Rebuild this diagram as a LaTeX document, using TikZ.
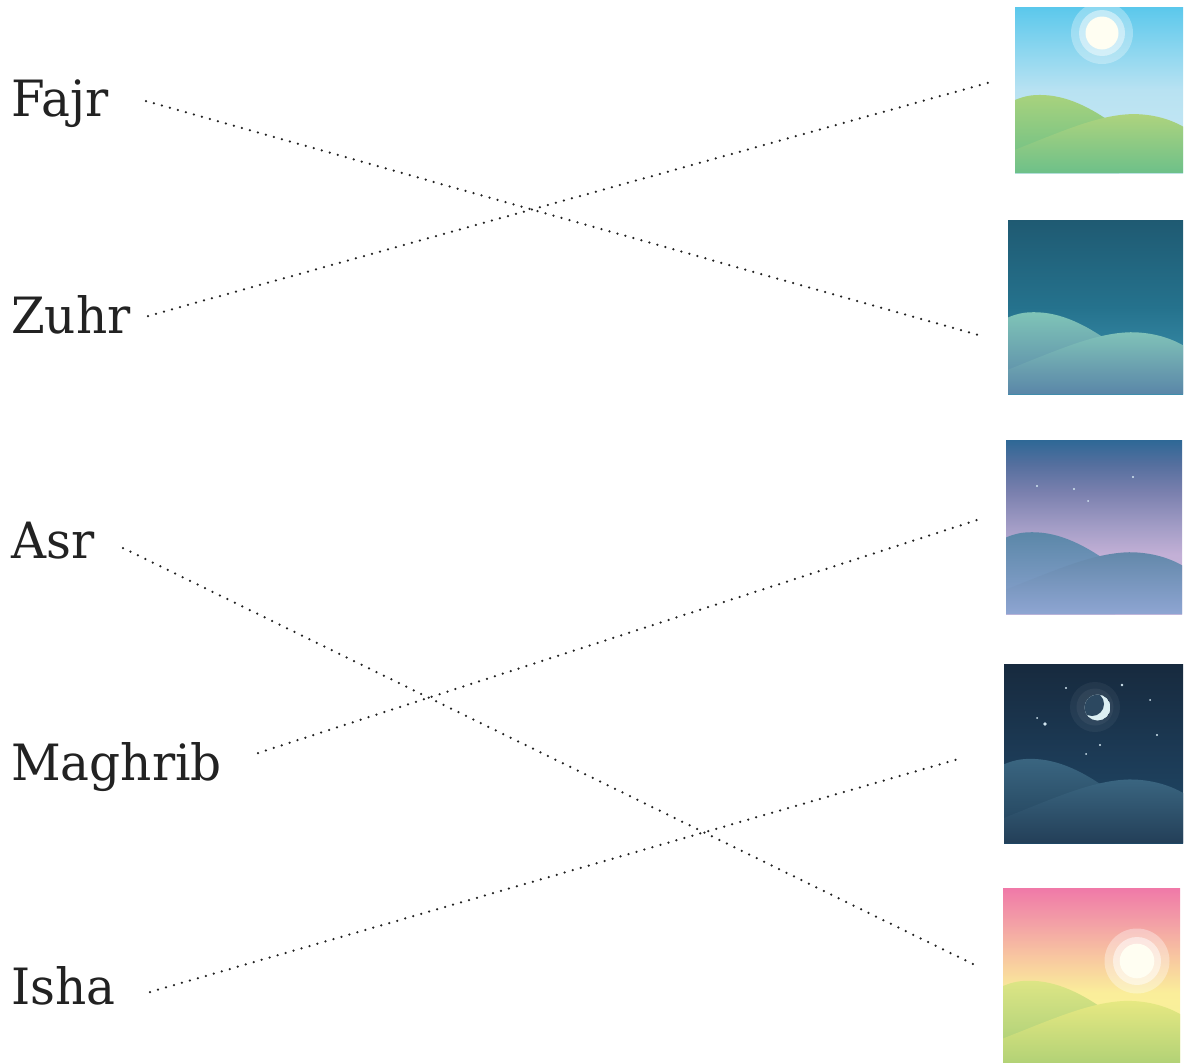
\documentclass[tikz,border=0pt]{standalone}
\usepackage{fontspec}
\setmainfont{DejaVu Serif}
\usetikzlibrary{calc}

\definecolor{ink}{HTML}{222222}

% sky colours
\definecolor{dayA}{HTML}{CBE9F4}\definecolor{dayB}{HTML}{B8E2F2}
\definecolor{dayC}{HTML}{8CD6EF}\definecolor{dayD}{HTML}{5BC8EC}
\definecolor{tealA}{HTML}{3B90AD}\definecolor{tealB}{HTML}{3689A5}
\definecolor{tealC}{HTML}{25728D}\definecolor{tealD}{HTML}{1F5A72}
\definecolor{duskA}{HTML}{C7B8DC}\definecolor{duskB}{HTML}{C3B0D6}
\definecolor{duskC}{HTML}{A39DC6}\definecolor{duskD}{HTML}{7A80AE}
\definecolor{duskE}{HTML}{556F9E}\definecolor{duskF}{HTML}{2E6896}
\definecolor{nightA}{HTML}{1F4A69}\definecolor{nightB}{HTML}{1C3A55}
\definecolor{nightC}{HTML}{172A3E}
\definecolor{dawnA}{HTML}{F7F59A}\definecolor{dawnB}{HTML}{FAEE9A}
\definecolor{dawnC}{HTML}{F8C8A0}\definecolor{dawnD}{HTML}{F3A0A6}
\definecolor{dawnE}{HTML}{F079A8}

% sky gradients (bottom of the box at 25bp, top at 75bp)
\pgfdeclareverticalshading{skyday}{100bp}{color(0bp)=(dayA); color(25bp)=(dayA);
  color(50bp)=(dayB); color(62bp)=(dayC); color(75bp)=(dayD); color(100bp)=(dayD)}
\pgfdeclareverticalshading{skyteal}{100bp}{color(0bp)=(tealA); color(25bp)=(tealA);
  color(35bp)=(tealB); color(50bp)=(tealC); color(75bp)=(tealD); color(100bp)=(tealD)}
\pgfdeclareverticalshading{skydusk}{100bp}{color(0bp)=(duskA); color(25bp)=(duskA);
  color(42bp)=(duskB); color(50bp)=(duskC); color(60bp)=(duskD);
  color(68bp)=(duskE); color(75bp)=(duskF); color(100bp)=(duskF)}
\pgfdeclareverticalshading{skynight}{100bp}{color(0bp)=(nightA); color(25bp)=(nightA);
  color(50bp)=(nightB); color(75bp)=(nightC); color(100bp)=(nightC)}
\pgfdeclareverticalshading{skydawn}{100bp}{color(0bp)=(dawnA); color(25bp)=(dawnA);
  color(45bp)=(dawnB); color(55bp)=(dawnC); color(65bp)=(dawnD);
  color(75bp)=(dawnE); color(100bp)=(dawnE)}

% two rolling hills inside a unit box (y runs downwards)
\newcommand\hills[4]{%
  \shade[top color=#1,bottom color=#2]
    (0,0.56) .. controls (0.06,0.535) and (0.1,0.53) .. (0.15,0.53)
    .. controls (0.3,0.53) and (0.45,0.6) .. (0.62,0.73) -- (0.62,1) -- (0,1) -- cycle;
  \shade[top color=#3,bottom color=#4]
    (0,0.86) .. controls (0.3,0.74) and (0.5,0.65) .. (0.7,0.645)
    .. controls (0.83,0.645) and (0.93,0.68) .. (1,0.72) -- (1,1) -- (0,1) -- cycle;}

% one landscape tile: node name, size, sky shading, hills
\newcommand\tile[5]{%
  \begin{scope}[shift={(#1.north west)},xscale=#2,yscale=#3]
    \shade[shading=#4] (0,0) rectangle (1,1);
    #5
  \end{scope}}

\definecolor{dayhillA}{HTML}{A8D27D}\definecolor{dayhillB}{HTML}{66BE88}
\definecolor{dayhillC}{HTML}{AED37E}\definecolor{dayhillD}{HTML}{6DC089}
\definecolor{tealhillA}{HTML}{7FC4B7}\definecolor{tealhillB}{HTML}{5683A8}
\definecolor{tealhillC}{HTML}{80C2B8}\definecolor{tealhillD}{HTML}{5A86A8}
\definecolor{duskhillA}{HTML}{5B87A8}\definecolor{duskhillB}{HTML}{8EA5D2}
\definecolor{duskhillC}{HTML}{6388AA}\definecolor{duskhillD}{HTML}{8EA5D2}
\definecolor{nighthillA}{HTML}{3A6580}\definecolor{nighthillB}{HTML}{1F3E57}
\definecolor{nighthillC}{HTML}{3A6580}\definecolor{nighthillD}{HTML}{233F58}
\definecolor{dawnhillA}{HTML}{DDE585}\definecolor{dawnhillB}{HTML}{A2CC76}
\definecolor{dawnhillC}{HTML}{E6E882}\definecolor{dawnhillD}{HTML}{B2D276}
\definecolor{sunwhite}{HTML}{FFFEF2}
\definecolor{starwhite}{HTML}{D2E6F0}
\definecolor{moonlight}{HTML}{DCEFF3}
\definecolor{moondisk}{HTML}{2C4860}

\begin{document}
\begin{tikzpicture}[x=1pt,y=-1pt,
  prayer/.style={anchor=base west,inner sep=0pt,text=ink,xscale=0.97,font=\fontsize{50}{60}\selectfont},
  tilebox/.style={anchor=north west,inner sep=0pt,outer sep=0pt},
  dots/.style={draw=ink,line width=2.5pt,line cap=round,dash pattern=on 0pt off 8.3pt},
  star/.style={fill=starwhite}]
\useasboundingbox (0,0) rectangle (1189,1063);

% prayer names
\node[prayer] (fajr)    at (11,116)  {Fajr};
\node[prayer] (zuhr)    at (11,333)  {Zuhr};
\node[prayer] (asr)     at (11,558)  {Asr};
\node[prayer] (maghrib) at (11,780)  {Maghrib};
\node[prayer] (isha)    at (11,1004) {Isha};

% picture tiles
\node[tilebox,minimum width=168pt,minimum height=166pt] (day)   at (1015,7)   {};
\node[tilebox,minimum width=175pt,minimum height=174pt] (teal)  at (1008,220) {};
\node[tilebox,minimum width=176pt,minimum height=174pt] (dusk)  at (1006,440) {};
\node[tilebox,minimum width=179pt,minimum height=179pt] (night) at (1004,664) {};
\node[tilebox,minimum width=177pt,minimum height=175pt] (dawn)  at (1003,888) {};

\tile{day}{168}{166}{skyday}{\hills{dayhillA}{dayhillB}{dayhillC}{dayhillD}}
\tile{teal}{175}{174}{skyteal}{\hills{tealhillA}{tealhillB}{tealhillC}{tealhillD}}
\tile{dusk}{176}{174}{skydusk}{\hills{duskhillA}{duskhillB}{duskhillC}{duskhillD}}
\tile{night}{179}{179}{skynight}{\hills{nighthillA}{nighthillB}{nighthillC}{nighthillD}}
\tile{dawn}{177}{175}{skydawn}{\hills{dawnhillA}{dawnhillB}{dawnhillC}{dawnhillD}}

% midday sun
\fill[white,opacity=0.3]  (1102,33) circle[radius=31];
\fill[white,opacity=0.45] (1102,33) circle[radius=23];
\fill[sunwhite]           (1102,33) circle[radius=16.5];

% evening sun
\fill[white,opacity=0.35] (1137,961) circle[radius=32.5];
\fill[white,opacity=0.5]  (1137,961) circle[radius=24];
\fill[sunwhite]           (1137,961) circle[radius=17.3];

% dusk stars
\fill[star] (1037,486) circle[radius=1.1];
\fill[star] (1074,489) circle[radius=1.1];
\fill[star] (1088,501) circle[radius=1];
\fill[star] (1133,477) circle[radius=1.1];

% moon with its glow
\fill[white,opacity=0.05] (1095,707) circle[radius=25];
\fill[white,opacity=0.05] (1095,707) circle[radius=18.5];
\begin{scope}
  \clip (1097.5,707.5) circle[radius=13];
  \fill[moonlight] (1097.5,707.5) circle[radius=13];
  \fill[moondisk] (1092,704) circle[radius=12];
\end{scope}

% night stars
\fill[star] (1066,688) circle[radius=1.2];
\fill[star] (1122,685) circle[radius=1.4];
\fill[star] (1150,700) circle[radius=1];
\fill[star] (1037,718) circle[radius=1];
\fill[star] (1045,724) circle[radius=1.8];
\fill[star] (1157,735) circle[radius=1.2];
\fill[star] (1100,745) circle[radius=1.2];
\fill[star] (1086,754) circle[radius=1];

% matching lines
\coordinate (fajr-a)    at (146,101);  \coordinate (fajr-b)    at (978,335);
\coordinate (zuhr-a)    at (148,316);  \coordinate (zuhr-b)    at (991,82);
\coordinate (asr-a)     at (123,548);  \coordinate (asr-b)     at (977,966);
\coordinate (maghrib-a) at (258,753);  \coordinate (maghrib-b) at (977,520);
\coordinate (isha-a)    at (150,992);  \coordinate (isha-b)    at (962,758);
\draw[dots] (fajr-a) -- (fajr-b);
\draw[dots] (zuhr-a) -- (zuhr-b);
\draw[dots] (asr-a) -- (asr-b);
\draw[dots] (maghrib-a) -- (maghrib-b);
\draw[dots] (isha-a) -- (isha-b);
\end{tikzpicture}
\end{document}
